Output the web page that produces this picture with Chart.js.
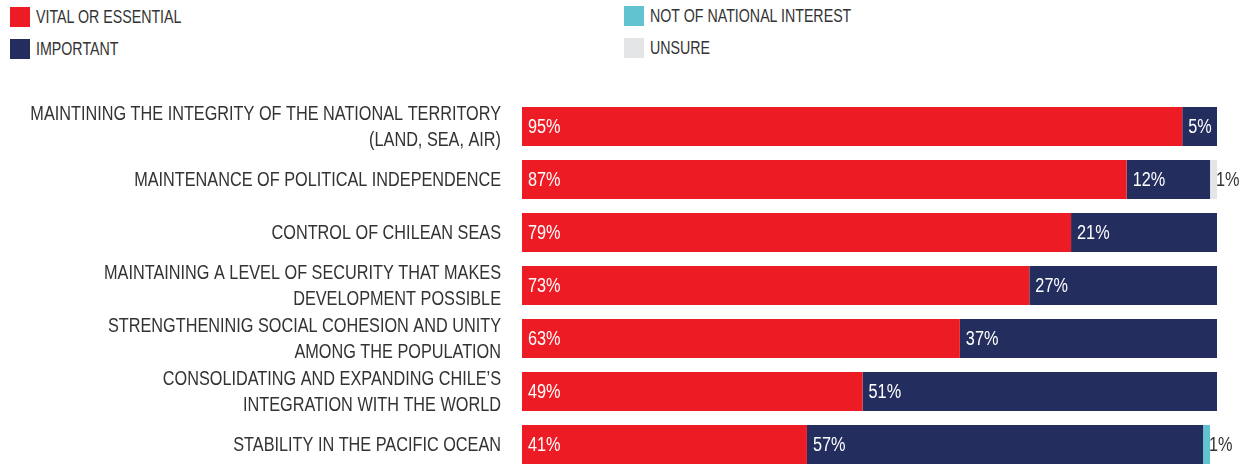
<!DOCTYPE html>
<html>
<head>
<meta charset="utf-8">
<script src="https://cdn.jsdelivr.net/npm/chart.js@4.4.0/dist/chart.umd.min.js"></script>
<style>
  html, body { margin: 0; padding: 0; background: #fff; overflow: hidden; }
  body { width: 1247px; height: 464px; position: relative; font-family: "Liberation Sans", Arial, sans-serif; }
  .legend { position: absolute; left: 0; top: 0; font-size: 17.5px; color: #333; }
  .item { position: absolute; white-space: nowrap; height: 20px; line-height: 20px; }
  .item span { position: absolute; left: 0; top: 0; width: 20px; height: 20px; }
  .item b { font-weight: normal; position: absolute; left: 26px; top: 0; transform: scaleX(0.813); transform-origin: left center; }
  #mycanvas { position: absolute; left: 0; top: 0; }
</style>
</head>
<body>
<div class="legend" id="legend"></div>
<canvas id="mycanvas" width="1247" height="480"></canvas>
<script>
var categories = [
  ["MAINTINING THE INTEGRITY OF THE NATIONAL TERRITORY", "(LAND, SEA, AIR)"],
  "MAINTENANCE OF POLITICAL INDEPENDENCE",
  "CONTROL OF CHILEAN SEAS",
  ["MAINTAINING A LEVEL OF SECURITY THAT MAKES", "DEVELOPMENT POSSIBLE"],
  ["STRENGTHENINIG SOCIAL COHESION AND UNITY", "AMONG THE POPULATION"],
  ["CONSOLIDATING AND EXPANDING CHILE\u2019S", "INTEGRATION WITH THE WORLD"],
  "STABILITY IN THE PACIFIC OCEAN"
];
var vital = [95, 87, 79, 73, 63, 49, 41];
var important = [5, 12, 21, 27, 37, 51, 57];
var notInterest = [0, 0, 0, 0, 0, 0, 1];
var unsure = [0, 1, 0, 0, 0, 0, 0];

var seriesNames = ["VITAL OR ESSENTIAL", "IMPORTANT", "NOT OF NATIONAL INTEREST", "UNSURE"];
var seriesColors = ["#ED1C24", "#232D5E", "#62C3D0", "#E4E5E7"];

var FONT = '"Liberation Sans", Arial, sans-serif';
var NARROW = 0.813; // squeeze Arial-like text to look like the condensed face of the original

// html legend, two columns
var legendPos = [[10, 7], [10, 39], [624, 6], [624, 38]];
var lg = document.getElementById("legend");
for (var i = 0; i < seriesNames.length; i++) {
  var d = document.createElement("div");
  d.className = "item";
  d.style.left = legendPos[i][0] + "px";
  d.style.top = legendPos[i][1] + "px";
  d.innerHTML = '<span style="background:' + seriesColors[i] + '"></span><b>' + seriesNames[i] + '</b>';
  lg.appendChild(d);
}

function narrowText(ctx, txt, x, y) {
  ctx.save();
  ctx.translate(x, y);
  ctx.scale(NARROW, 1);
  ctx.fillText(txt, 0, 0);
  ctx.restore();
}

// category labels, placed with the y scale
var catLabels = {
  id: "catLabels",
  afterDraw: function(chart) {
    var ctx = chart.ctx;
    var ys = chart.scales.y;
    var lineH = 26;
    ctx.save();
    ctx.font = "20px " + FONT;
    ctx.fillStyle = "#333333";
    ctx.textBaseline = "middle";
    ctx.textAlign = "right";
    chart.data.labels.forEach(function(lab, i) {
      var lines = Array.isArray(lab) ? lab : [lab];
      var yc = ys.getPixelForTick(i);
      var y0 = yc - (lines.length - 1) * lineH / 2 + 1;
      lines.forEach(function(t, k) {
        narrowText(ctx, t, chart.chartArea.left - 21, y0 + k * lineH);
      });
    });
    ctx.restore();
  }
};

// value labels drawn on the bars
var valueLabels = {
  id: "valueLabels",
  afterDatasetsDraw: function(chart) {
    var ctx = chart.ctx;
    ctx.save();
    ctx.font = "20px " + FONT;
    ctx.textBaseline = "middle";
    ctx.textAlign = "left";
    chart.data.datasets.forEach(function(ds, di) {
      var meta = chart.getDatasetMeta(di);
      meta.data.forEach(function(bar, i) {
        var v = ds.data[i];
        if (!v) return;
        var p = bar.getProps(["x", "y", "base"], true);
        if (v >= 3) {
          ctx.fillStyle = "#ffffff";
          narrowText(ctx, v + "%", Math.min(p.x, p.base) + 6, p.y + 1);
        } else {
          ctx.fillStyle = "#333333";
          narrowText(ctx, v + "%", Math.max(p.x, p.base) - 1, p.y + 1);
        }
      });
    });
    ctx.restore();
  }
};

var chartdata = {
  labels: categories,
  datasets: [
    { label: seriesNames[0], data: vital, backgroundColor: seriesColors[0] },
    { label: seriesNames[1], data: important, backgroundColor: seriesColors[1] },
    { label: seriesNames[2], data: notInterest, backgroundColor: seriesColors[2] },
    { label: seriesNames[3], data: unsure, backgroundColor: seriesColors[3] }
  ]
};

var ctx = document.getElementById("mycanvas");
var HBar = new Chart(ctx, {
  type: "bar",
  data: chartdata,
  plugins: [valueLabels, catLabels],
  options: {
    indexAxis: "y",
    responsive: false,
    animation: false,
    datasets: { bar: { categoryPercentage: 0.736, barPercentage: 1, borderWidth: 0 } },
    layout: { padding: { top: 100, right: 30, bottom: 9, left: 0 } },
    scales: {
      x: { stacked: true, min: 0, max: 100, display: false },
      y: {
        stacked: true,
        grid: { display: false, drawTicks: false },
        border: { display: false },
        afterFit: function(scale) { scale.width = 522; },
        ticks: { display: false, autoSkip: false }
      }
    },
    plugins: {
      legend: { display: false },
      tooltip: { enabled: false }
    }
  }
});
</script>
</body>
</html>
